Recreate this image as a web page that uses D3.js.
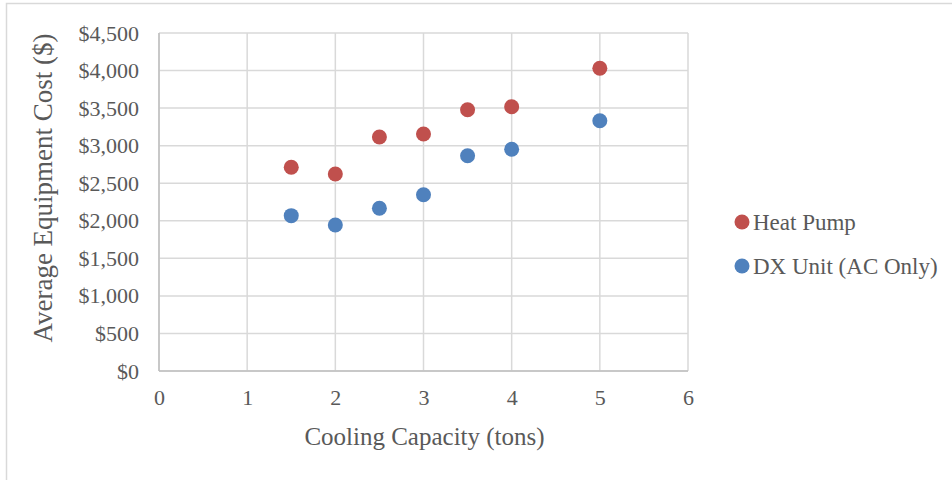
<!DOCTYPE html>
<html>
<head>
<meta charset="utf-8">
<script src="https://cdn.jsdelivr.net/npm/d3@7"></script>
<style>
  html, body { margin: 0; padding: 0; background: #fff; }
  svg { display: block; }
  text { font-family: "Liberation Serif", "DejaVu Serif", serif; fill: #595959; }
</style>
</head>
<body>
<svg id="chart" width="952" height="480"></svg>
<script>
// Cooling capacity (tons) for each surveyed unit size
const capacity = [1.5, 2, 2.5, 3, 3.5, 4, 5];
// Average equipment cost ($) per system type
const heatPump = [2712, 2623, 3115, 3155, 3479, 3519, 4030];
const dxUnit = [2068, 1944, 2166, 2347, 2866, 2952, 3332];
const seriesNames = ["Heat Pump", "DX Unit (AC Only)"];
const seriesColors = ["#C0504D", "#4F81BD"];
const xTicks = [0, 1, 2, 3, 4, 5, 6];
const yTicks = [0, 500, 1000, 1500, 2000, 2500, 3000, 3500, 4000, 4500];

const svg = d3.select("#chart");

// outer chart border
svg.append("rect")
  .attr("x", 6.5).attr("y", 3.5)
  .attr("width", 1000).attr("height", 1000)
  .attr("fill", "none").attr("stroke", "#d9d9d9").attr("stroke-width", 1.5);

const plot = { left: 159, right: 688, top: 33, bottom: 371 };

const x = d3.scaleLinear().domain([0, 6]).range([plot.left, plot.right]);
const y = d3.scaleLinear().domain([0, 4500]).range([plot.bottom, plot.top]);

// gridlines
const grid = svg.append("g");
grid.selectAll(".vg").data(xTicks).join("line")
  .attr("x1", d => x(d)).attr("x2", d => x(d))
  .attr("y1", plot.top).attr("y2", plot.bottom)
  .attr("stroke", "#d9d9d9").attr("stroke-width", 1.5);
grid.selectAll(".hg").data(yTicks).join("line")
  .attr("x1", plot.left).attr("x2", plot.right)
  .attr("y1", d => y(d)).attr("y2", d => y(d))
  .attr("stroke", "#d9d9d9").attr("stroke-width", 1.5);

// axis lines
svg.append("line")
  .attr("x1", plot.left).attr("x2", plot.left)
  .attr("y1", plot.top).attr("y2", plot.bottom)
  .attr("stroke", "#bfbfbf").attr("stroke-width", 1.5);
svg.append("line")
  .attr("x1", plot.left).attr("x2", plot.right)
  .attr("y1", plot.bottom).attr("y2", plot.bottom)
  .attr("stroke", "#bfbfbf").attr("stroke-width", 1.5);

// tick labels via d3 axes (tick lines and domain hidden)
const fmt = d3.format("$,");
const yAxis = svg.append("g")
  .attr("transform", `translate(${plot.left},0)`)
  .call(d3.axisLeft(y).tickValues(yTicks).tickFormat(d => fmt(d)).tickSize(0).tickPadding(20));
const xAxis = svg.append("g")
  .attr("transform", `translate(0,${plot.bottom})`)
  .call(d3.axisBottom(x).tickValues(xTicks).tickFormat(d3.format("d")).tickSize(0).tickPadding(18));
[yAxis, xAxis].forEach(a => {
  a.select(".domain").remove();
  a.selectAll("text").attr("font-family", "Liberation Serif, serif")
    .attr("font-size", 22).attr("fill", "#595959");
});

// axis titles
svg.append("text")
  .attr("x", (plot.left + plot.right) / 2 + 1).attr("y", 445)
  .attr("text-anchor", "middle").attr("font-size", 25)
  .text("Cooling Capacity (tons)");
svg.append("text")
  .attr("transform", "translate(52,188) rotate(-90)")
  .attr("text-anchor", "middle").attr("font-size", 27)
  .text("Average Equipment Cost ($)");

// data points
const series = [heatPump, dxUnit];
series.forEach((vals, i) => {
  svg.append("g").selectAll("circle")
    .data(capacity.map((c, j) => ({ c, v: vals[j] })))
    .join("circle")
    .attr("cx", d => x(d.c)).attr("cy", d => y(d.v))
    .attr("r", 7.5).attr("fill", seriesColors[i]);
});

// legend
const legend = svg.append("g");
seriesNames.forEach((name, i) => {
  const ly = 222 + i * 44;
  legend.append("circle").attr("cx", 742).attr("cy", ly).attr("r", 7.5).attr("fill", seriesColors[i]);
  legend.append("text").attr("x", 753).attr("y", ly + 8).attr("font-size", 23).text(name);
});
</script>
</body>
</html>
